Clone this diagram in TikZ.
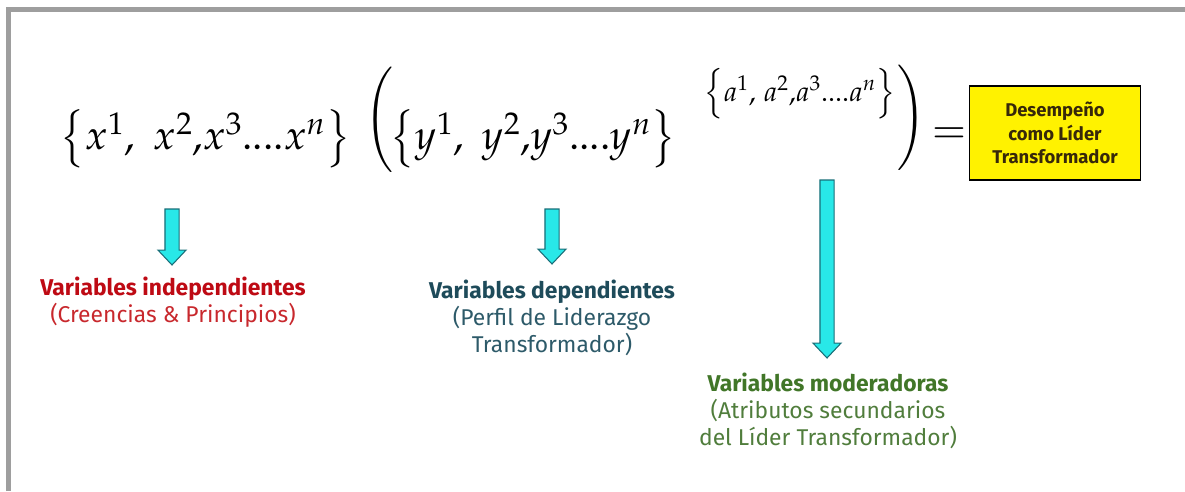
\documentclass[tikz,border=0pt]{standalone}
\usepackage{mathpazo}
\usepackage[no-math]{fontspec}
\setsansfont{Fira Sans}
\usepackage{xcolor}
\usepackage{tikz}
\usetikzlibrary{positioning,calc}

\definecolor{framegray}{RGB}{158,158,158}
\definecolor{arrowcyan}{RGB}{40,232,232}
\definecolor{arrowedge}{RGB}{25,110,120}
\definecolor{indepred}{RGB}{190,10,20}
\definecolor{indepredlt}{RGB}{200,40,45}
\definecolor{depteal}{RGB}{30,75,90}
\definecolor{deptealt}{RGB}{45,90,105}
\definecolor{modgreen}{RGB}{65,118,40}
\definecolor{modgreenlt}{RGB}{80,125,60}
\definecolor{boxtext}{RGB}{55,40,10}

% slightly taller set braces
\newcommand{\setopen}{\mathopen{\vcenter{\hbox{\scalebox{1}[1.18]{$\bigl\{$}}}}}
\newcommand{\setclose}{\mathclose{\vcenter{\hbox{\scalebox{1}[1.18]{$\bigr\}$}}}}}

\tikzset{
  mathpart/.style={inner sep=0pt, font=\fontsize{23.5}{28}\selectfont},
  bigparen/.style={inner sep=0pt, font=\fontsize{20}{24}\selectfont},
  varlabel/.style={align=center, inner sep=0pt, font=\sffamily\fontsize{13}{15.5}\selectfont},
  resultbox/.style={draw=black, line width=0.8pt, fill=yellow, align=center,
    minimum width=97.5pt, minimum height=53.3pt, inner sep=2pt,
    text=boxtext, font=\sffamily\bfseries\fontsize{10.5}{13.3}\selectfont},
  blockarrow/.style={fill=arrowcyan, draw=arrowedge, line width=0.6pt, line join=miter}
}

% block arrow from a top coordinate down to a tip coordinate
\newcommand{\downblock}[2]{%
  \draw[blockarrow] let \p1=(#1), \p2=(#2) in
    (\x1-4pt,\y1) -- (\x1+4pt,\y1) -- (\x1+4pt,\y2+8.5pt) -- (\x1+8pt,\y2+8.5pt)
    -- (\x1,\y2) -- (\x1-8pt,\y2+8.5pt) -- (\x1-4pt,\y2+8.5pt) -- cycle;}

\begin{document}
\begin{tikzpicture}[x=0.02cm, y=-0.02cm]
  \useasboundingbox (0,0) rectangle (1185,491);

  % Frame (top and left only)
  \draw[framegray, line width=2.8pt] (8.5,491) -- (8.5,9.5) -- (1185,9.5);

  % Formula
  \node[mathpart, anchor=base west] (setx) at (60,149) {$\setopen x^1,\; x^2{,}x^3....x^n\setclose$};
  \node[bigparen] (lparen) at (379,120) {$\Biggl($};
  \node[mathpart, anchor=base west] (sety) at (390,149) {$\setopen y^1,\; y^2{,}y^3....y^n\setclose$};
  \node[mathpart, anchor=base west, font=\fontsize{16}{19}\selectfont] (seta) at (704,101) {$\Big\{a^1{,}\; a^2{,}a^3....a^n\Big\}$};
  \node[bigparen] (rparen) at (911,118) {$\Biggr)$};
  \node[mathpart] (equals) at (949,136) {$=$};
  \node[resultbox] (result) at (1055,133) {Desempeño\\como Líder\\Transformador};

  % Variable labels
  \node[varlabel] (indep) at (173,302)
    {\textcolor{indepred}{\bfseries Variables independientes}\\\textcolor{indepredlt}{(Creencias \& Principios)}};
  \node[varlabel] (dep) at (552,318)
    {\textcolor{depteal}{\bfseries Variables dependientes}\\\textcolor{deptealt}{(Perfil de Liderazgo}\\\textcolor{deptealt}{Transformador)}};
  \node[varlabel] (moder) at (828,411)
    {\textcolor{modgreen}{\bfseries Variables moderadoras}\\\textcolor{modgreenlt}{(Atributos secundarios}\\\textcolor{modgreenlt}{del Líder Transformador)}};

  % Arrow ends
  \coordinate (top1) at (172,209);
  \coordinate (tip1) at (172,265);
  \coordinate (top2) at (552,209);
  \coordinate (tip2) at (552,264);
  \coordinate (top3) at (827,180);
  \coordinate (tip3) at (827,358);

  \downblock{top1}{tip1}
  \downblock{top2}{tip2}
  \downblock{top3}{tip3}
\end{tikzpicture}
\end{document}
